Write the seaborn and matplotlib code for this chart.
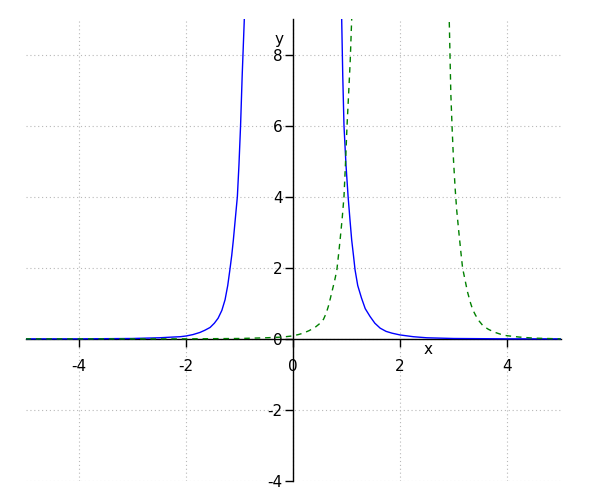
import numpy as np
import pandas as pd
import seaborn as sns
import matplotlib
matplotlib.use("Agg")
import matplotlib.pyplot as plt

plt.rcParams["axes.unicode_minus"] = False

# values, one list per branch
blue_left_x = [-5.0, -4.0, -3.0, -2.5, -2.25, -2.11, -2.0, -1.87, -1.74, -1.65, -1.55, -1.47, -1.40, -1.33,
               -1.27, -1.22, -1.18, -1.145, -1.115, -1.08, -1.04, -1.01, -0.98, -0.95, -0.93, -0.91, -0.90]
blue_left_y = [0.0, 0.0, 0.01, 0.03, 0.05, 0.06, 0.08, 0.12, 0.18, 0.24, 0.32, 0.44, 0.58, 0.80,
               1.10, 1.50, 1.94, 2.35, 2.78, 3.35, 4.0, 4.9, 6.0, 7.4, 8.2, 9.0, 9.5]

blue_right_x = [0.90, 0.91, 0.93, 0.953, 0.99, 1.03, 1.065, 1.097, 1.13, 1.16, 1.21, 1.28, 1.35, 1.44,
                1.53, 1.63, 1.74, 1.85, 2.0, 2.25, 2.5, 3.0, 4.0, 5.0]
blue_right_y = [9.5, 9.0, 7.4, 6.0, 4.9, 4.0, 3.35, 2.78, 2.35, 1.94, 1.50, 1.15, 0.85, 0.63,
                0.44, 0.30, 0.21, 0.16, 0.11, 0.06, 0.03, 0.01, 0.0, 0.0]

green_left_x = [-5.0, -3.0, -2.0, -1.0, -0.5, -0.2, -0.02, 0.1, 0.19, 0.3, 0.41, 0.5, 0.57, 0.62, 0.66,
                0.70, 0.74, 0.78, 0.82, 0.85, 0.88, 0.92, 0.953, 0.98, 1.01, 1.04, 1.07, 1.097, 1.10]
green_left_y = [0.0, 0.0, 0.0, 0.01, 0.03, 0.05, 0.08, 0.12, 0.16, 0.23, 0.32, 0.43, 0.55, 0.72, 0.91,
                1.15, 1.40, 1.65, 1.94, 2.35, 2.78, 3.4, 4.0, 4.9, 6.0, 6.9, 7.84, 9.0, 9.5]

green_right_x = [2.90, 2.92, 2.95, 2.975, 3.0, 3.03, 3.06, 3.1, 3.14, 3.17, 3.21, 3.26, 3.32, 3.36, 3.41,
                 3.48, 3.55, 3.65, 3.76, 3.88, 3.99, 4.23, 4.5, 5.0]
green_right_y = [9.5, 9.0, 6.9, 5.9, 5.03, 4.25, 3.62, 3.0, 2.41, 1.99, 1.70, 1.33, 1.0, 0.82, 0.67,
                 0.50, 0.37, 0.27, 0.19, 0.13, 0.09, 0.05, 0.02, 0.0]

x_ticks = [-4, -2, 0, 2, 4]
y_ticks = [-4, -2, 0, 2, 4, 6, 8]

# long table for seaborn: one unit per branch so the pole gaps stay open
frames = []
for name, curve, xs, ys in [
    ("bl", "f", blue_left_x, blue_left_y),
    ("br", "f", blue_right_x, blue_right_y),
    ("gl", "g", green_left_x, green_left_y),
    ("gr", "g", green_right_x, green_right_y),
]:
    frames.append(pd.DataFrame({"x": xs, "y": ys, "curve": curve, "branch": name}))
df = pd.concat(frames, ignore_index=True)

fig = plt.figure(figsize=(6, 5), dpi=100)
ax = fig.add_axes([25.5 / 600, 19 / 500, 535 / 600, 462 / 500])

sns.lineplot(
    data=df, x="x", y="y", hue="curve", style="curve", units="branch",
    estimator=None, palette={"f": "blue", "g": "green"},
    dashes={"f": "", "g": (4, 3.5)}, linewidth=1, legend=False,
    zorder=3, ax=ax,
)

# axes through the origin, sage style
ax.set_xlim(-5, 5)
ax.set_ylim(-4, 9)
sns.despine(ax=ax)
ax.spines["left"].set_position(("data", 0))
ax.spines["bottom"].set_position(("data", 0))
ax.spines["left"].set_linewidth(1)
ax.spines["bottom"].set_linewidth(1)

ax.set_xticks(x_ticks)
ax.set_yticks(y_ticks)
ax.tick_params(axis="both", labelsize=11, length=5.5, width=1, colors="black")
ax.tick_params(axis="x", pad=9)
ax.tick_params(axis="y", pad=2)

ax.grid(True, linestyle=(0, (1, 2.5)), color="#b8b8b8", linewidth=0.8)
ax.set_axisbelow(True)

ax.set_xlabel("x", fontsize=11, va="center")
ax.set_ylabel("y", fontsize=11, rotation=0, va="center", ha="center")
ax.xaxis.set_label_coords(2.52, -0.29, transform=ax.transData)
ax.yaxis.set_label_coords(-0.256, 8.42, transform=ax.transData)

plt.savefig("out.png", dpi=100)
plt.close(fig)
